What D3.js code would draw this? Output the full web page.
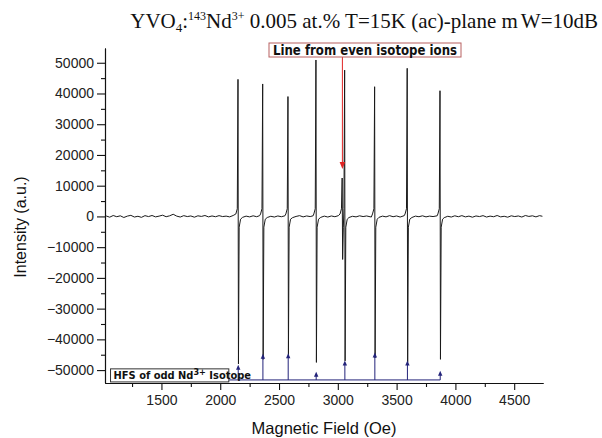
<!DOCTYPE html>
<html>
<head>
<meta charset="utf-8">
<script src="https://cdn.jsdelivr.net/npm/d3@7"></script>
<style>
  body { margin: 0; background: #fff; }
  svg { display: block; }
</style>
</head>
<body>
<svg id="chart" width="602" height="438"></svg>
<script>
// Hyperfine lines of the odd isotope: centre field (Oe), derivative peak and trough (a.u.)
const hfsField  = [2153, 2363, 2578, 2816, 3060, 3315, 3592, 3871];
const hfsPeak   = [44600, 43100, 39000, 50900, 47600, 42200, 48200, 40900];
const hfsTrough = [-48000, -46500, -45000, -47500, -47000, -46000, -47500, -46500];

// Central line from the even isotopes
const evenField  = [3039];
const evenPeak   = [12500];
const evenTrough = [-14000];

// Small wings either side of each derivative line (offset in Oe, intensity)
const wingOffset = [20, 8];
const wingBefore = [800, 2500];
const wingAfter  = [-3500, -900];

// Stick diagram of the HFS pattern (arrow tips and common base, a.u.)
const stickTip  = [-48300, -44700, -44500, -50500, -46900, -44300, -46900, -50200];
const stickBase = -53200;

// Noisy baseline between the lines: [field (Oe), intensity]
const baseline = [
  [1030, 150], [1060, -250], [1090, 300], [1120, -100], [1150, 200], [1180, -350],
  [1210, 100], [1240, 350], [1270, -200], [1300, 50], [1330, -300], [1360, 250],
  [1390, -50], [1420, 300], [1450, -150], [1480, 100], [1510, 400], [1540, -100],
  [1570, 200], [1600, 700], [1630, 100], [1660, -200], [1690, 250], [1720, -50],
  [1750, 150], [1780, -250], [1810, 200], [1840, 0], [1870, 300], [1900, -150],
  [1930, 150], [1960, -100], [1990, 250], [2020, -50], [2050, 100], [2080, -150],
  [2110, 300],
  [2190, -300], [2220, 100], [2250, -150], [2280, 200], [2310, -100], [2335, 250],
  [2400, -350], [2430, 50], [2460, -200], [2490, 150], [2520, -100], [2550, 200],
  [2615, -400], [2645, 0], [2675, 250], [2705, -150], [2735, 150], [2765, -50], [2790, 200],
  [2855, -300], [2885, 100], [2915, -200], [2945, 150], [2975, -100], [3005, 250],
  [3095, -350], [3125, 50], [3155, -150], [3185, 200], [3215, -50], [3245, 150], [3285, -200],
  [3350, -300], [3380, 100], [3410, -150], [3440, 250], [3470, -100], [3500, 150], [3530, -200], [3565, 250],
  [3630, -350], [3660, 100], [3690, -100], [3720, 200], [3750, -150], [3780, 100], [3810, -50], [3845, 200],
  [3905, -400], [3935, 50], [3965, -200], [3995, 200], [4025, -100], [4055, 250], [4085, -150],
  [4115, 100], [4145, -250], [4175, 150], [4205, -50], [4235, 250], [4265, -200], [4295, 100],
  [4325, -100], [4355, 300], [4385, -150], [4415, 50], [4445, -250], [4475, 200], [4505, -50],
  [4535, 150], [4565, -200], [4595, 300], [4625, 0], [4655, 200], [4685, -150], [4715, 250], [4740, 50]
];

// Axis ticks
const xTicks = [1500, 2000, 2500, 3000, 3500, 4000, 4500];
const xMinor = [1250, 1750, 2250, 2750, 3250, 3750, 4250];
const yTicks = [-50000, -40000, -30000, -20000, -10000, 0, 10000, 20000, 30000, 40000, 50000];
const yMinor = [-45000, -35000, -25000, -15000, -5000, 5000, 15000, 25000, 35000, 45000];

const svg = d3.select("#chart");
const sans = "'Liberation Sans', Arial, Helvetica, sans-serif";
const narrow = "'Liberation Sans Narrow', 'Arial Narrow', 'DejaVu Sans Condensed', sans-serif";

const x = d3.scaleLinear().domain([1020, 4745]).range([105, 543]);
const y = d3.scaleLinear().domain([-54200, 54800]).range([383, 48]);

// ---- spectrum trace ----
const lines = hfsField.map((f, i) => ({ f, peak: hfsPeak[i], trough: hfsTrough[i] }))
  .concat(evenField.map((f, i) => ({ f, peak: evenPeak[i], trough: evenTrough[i] })));
const centres = lines.map(d => d.f);
// a wing is left out when a neighbouring line sits inside it
const clear = (f, from, to) => !centres.some(c => c !== f && c >= Math.min(from, to) && c <= Math.max(from, to));

const pts = baseline.map(d => ({ f: d[0], v: d[1] }));
lines.forEach(l => {
  const f = l.f;
  wingOffset.forEach((o, k) => {
    if (clear(f, f - o - 5, f)) pts.push({ f: f - o, v: wingBefore[k] });
    if (clear(f, f, f + o + 5)) pts.push({ f: f + o, v: wingAfter[1 - k] });
  });
  pts.push({ f: f - 2, v: l.peak }, { f: f + 2, v: l.trough });
});
pts.sort((a, b) => a.f - b.f);

const line = d3.line().x(d => x(d.f)).y(d => y(d.v));
svg.append("path")
  .datum(pts)
  .attr("d", line)
  .attr("fill", "none")
  .attr("stroke", "#1a1a1a")
  .attr("stroke-width", 1)
  .attr("stroke-linejoin", "round");

// ---- axes ----
function styleAxis(g) {
  g.selectAll("path, line").attr("stroke", "#111").attr("stroke-width", 1.1);
  g.selectAll("text").attr("fill", "#222").style("font-family", sans).style("font-size", "14px");
}

svg.append("g")
  .attr("transform", "translate(105,0)")
  .call(d3.axisLeft(y).tickValues(yMinor).tickSize(4).tickSizeOuter(0).tickFormat(""))
  .call(styleAxis);
svg.append("g")
  .attr("transform", "translate(105,0)")
  .call(d3.axisLeft(y).tickValues(yTicks).tickSize(8).tickSizeOuter(0).tickPadding(3).tickFormat(d3.format("d")))
  .call(styleAxis);

svg.append("g")
  .attr("transform", "translate(0,383)")
  .call(d3.axisBottom(x).tickValues(xMinor).tickSize(4).tickSizeOuter(0).tickFormat(""))
  .call(styleAxis);
svg.append("g")
  .attr("transform", "translate(0,383)")
  .call(d3.axisBottom(x).tickValues(xTicks).tickSize(7).tickSizeOuter(0).tickPadding(5).tickFormat(d3.format("d")))
  .call(styleAxis);

// axis titles
svg.append("text")
  .attr("x", 324).attr("y", 434)
  .attr("text-anchor", "middle")
  .style("font-family", sans).style("font-size", "16.5px").attr("fill", "#111")
  .text("Magnetic Field (Oe)");

svg.append("text")
  .attr("transform", "translate(26,227) rotate(-90)")
  .attr("text-anchor", "middle")
  .style("font-family", sans).style("font-size", "16px").attr("fill", "#111")
  .text("Intensity (a.u.)");

// ---- title ----
const title = svg.append("text")
  .attr("x", 598).attr("y", 28)
  .attr("text-anchor", "end")
  .style("font-family", "'Liberation Serif', 'Times New Roman', serif")
  .style("font-size", "21px").attr("fill", "#111");
title.append("tspan").text("YVO");
title.append("tspan").attr("dy", 4).style("font-size", "13px").text("4");
title.append("tspan").attr("dy", -4).text(":");
title.append("tspan").attr("dy", -8).style("font-size", "12px").text("143");
title.append("tspan").attr("dy", 8).text("Nd");
title.append("tspan").attr("dy", -8).style("font-size", "12px").text("3+");
title.append("tspan").attr("dy", 8).text(" 0.005 at.% T=15K (ac)-plane m");
title.append("tspan").attr("dx", 3).text("W=10dB");

// ---- stick diagram ----
const navy = "#23237a";
const hfsBox = { f0: 1067, f1: 2073, v0: -49600, v1: -53850 };

svg.append("line")
  .attr("x1", x(hfsBox.f1)).attr("x2", x(hfsField[hfsField.length - 1]))
  .attr("y1", y(stickBase)).attr("y2", y(stickBase))
  .attr("stroke", navy).attr("stroke-width", 1);

const sticks = svg.append("g");
hfsField.forEach((f, i) => {
  const sx = x(f), sy = y(stickTip[i]);
  sticks.append("line")
    .attr("x1", sx).attr("x2", sx)
    .attr("y1", y(stickBase)).attr("y2", sy + 3)
    .attr("stroke", navy).attr("stroke-width", 1);
  sticks.append("path")
    .attr("d", `M${sx},${sy} L${sx - 2.2},${sy + 5} L${sx + 2.2},${sy + 5} Z`)
    .attr("fill", navy);
});

// box label for the stick diagram
const bx0 = x(hfsBox.f0), bx1 = x(hfsBox.f1), by0 = y(hfsBox.v0), by1 = y(hfsBox.v1);
svg.append("rect")
  .attr("x", bx0).attr("y", by0)
  .attr("width", bx1 - bx0).attr("height", by1 - by0)
  .attr("fill", "#fff").attr("stroke", "#333").attr("stroke-width", 1);
const hfsLabel = svg.append("text")
  .attr("x", bx0 + 3).attr("y", by1 - 3)
  .style("font-family", narrow).style("font-size", "11px").style("font-weight", "bold")
  .attr("fill", "#111");
hfsLabel.append("tspan").text("HFS of odd Nd");
hfsLabel.append("tspan").attr("dy", -4).style("font-size", "9px").text("3+");
hfsLabel.append("tspan").attr("dy", 4).text(" Isotope");

// ---- annotation for the even-isotope line ----
const red = "#e02424";
const ax = x(evenField[0]);
const tipY = y(evenPeak[0]) - 9;
svg.append("line")
  .attr("x1", ax).attr("x2", ax)
  .attr("y1", 57).attr("y2", tipY - 5)
  .attr("stroke", red).attr("stroke-width", 1);
svg.append("path")
  .attr("d", `M${ax},${tipY} L${ax - 2.8},${tipY - 7} L${ax + 2.8},${tipY - 7} Z`)
  .attr("fill", red);

svg.append("rect")
  .attr("x", 269).attr("y", 43).attr("width", 192).attr("height", 14)
  .attr("fill", "#fff").attr("stroke", "#b86060").attr("stroke-width", 1);
svg.append("text")
  .attr("x", 365).attr("y", 55)
  .attr("text-anchor", "middle")
  .attr("textLength", 184).attr("lengthAdjust", "spacingAndGlyphs")
  .style("font-family", narrow).style("font-size", "14px").style("font-weight", "bold")
  .attr("fill", "#111")
  .text("Line from even isotope ions");
</script>
</body>
</html>
